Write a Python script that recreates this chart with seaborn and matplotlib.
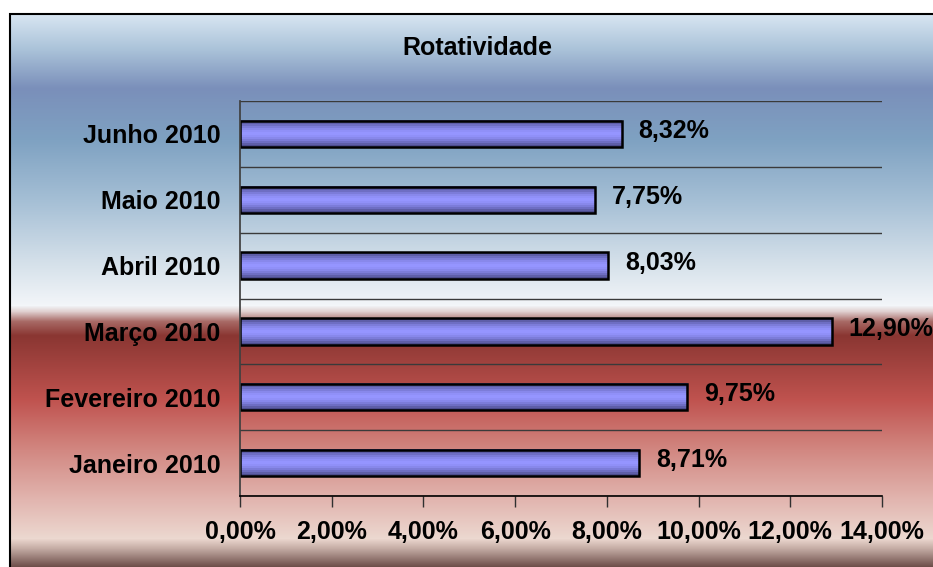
import numpy as np
import pandas as pd
import matplotlib.pyplot as plt
import matplotlib.ticker as mticker
from matplotlib.colors import LinearSegmentedColormap, to_rgb
from matplotlib.patches import Rectangle
import seaborn as sns

# ── Data ────────────────────────────────────────────────
months = ["Junho 2010", "Maio 2010", "Abril 2010",
          "Março 2010", "Fevereiro 2010", "Janeiro 2010"]
rates = [8.32, 7.75, 8.03, 12.90, 9.75, 8.71]
x_ticks = [0, 2, 4, 6, 8, 10, 12, 14]
title = "Rotatividade"

# ── Style ───────────────────────────────────────────────
sns.set_theme(style="white")
plt.rcParams["font.family"] = ["Liberation Sans", "DejaVu Sans"]
plt.rcParams["font.weight"] = "bold"
plt.rcParams["text.color"] = "black"
plt.rcParams["xtick.color"] = "black"
plt.rcParams["ytick.color"] = "black"

W, H = 933, 567
fig = plt.figure(figsize=(W / 100, H / 100), dpi=100)
fig.patch.set_facecolor("white")

# ── Background gradient (blue top, red bottom) ─────────
bg_stops = [(14, "#d8e6f2"), (50, "#a9c1d8"), (88, "#7a8fba"),
            (140, "#7fa2c2"), (200, "#a5bfd5"), (260, "#d3dfe9"),
            (305, "#f3f6f9"), (311, "#e0d0d0"), (321, "#a86a66"),
            (335, "#8a3632"), (400, "#c0534f"), (450, "#d28882"),
            (500, "#e2b6b0"), (538, "#ecd8d0"), (548, "#c4aca4"),
            (567, "#6a4a46")]
ys = np.arange(14, H)
sy = [s[0] for s in bg_stops]
cols = np.array([to_rgb(s[1]) for s in bg_stops])
grad_bg = np.stack([np.interp(ys, sy, cols[:, c]) for c in range(3)], axis=1)

bg = fig.add_axes([10 / W, 0, 1 - 10 / W, (H - 14) / H])
bg.imshow(grad_bg[:, None, :], aspect="auto", extent=[0, 1, 0, 1])
bg.axis("off")

# ── Main chart ──────────────────────────────────────────
ax = fig.add_axes([240 / W, (H - 496) / H, (882 - 240) / W, (496 - 101) / H])
ax.patch.set_alpha(0)

df = pd.DataFrame({"mes": months, "taxa": rates})
sns.barplot(data=df, x="taxa", y="mes", orient="h", width=0.4,
            color="#9090ff", edgecolor="black", linewidth=1.8,
            saturation=1, ax=ax)

# banded shading on each bar
n_band = 13
band = 1 - np.abs(np.linspace(-1, 1, n_band)) ** 1.6
bar_cmap = LinearSegmentedColormap.from_list("bar", ["#4c4c8c", "#9595ff"])
for p in ax.patches:
    x0, y0, w, h = p.get_x(), p.get_y(), p.get_width(), p.get_height()
    ax.imshow(band[:, None], cmap=bar_cmap, aspect="auto",
              extent=[x0, x0 + w, y0 + h, y0], zorder=p.get_zorder() + 0.1,
              interpolation="nearest")
    p.set_facecolor("none")
    p.set_zorder(p.get_zorder() + 0.2)

# value labels
for i, v in enumerate(rates):
    ax.annotate(f"{v:.2f}%".replace(".", ","), xy=(v, i), xytext=(12, 2),
                textcoords="offset points", va="center", ha="left",
                fontsize=18, fontweight="bold", color="black",
                annotation_clip=False)

ax.set_xlim(0, 14)
ax.set_ylim(5.5, -0.5)
ax.set_xticks(x_ticks)
ax.xaxis.set_major_formatter(
    mticker.FuncFormatter(lambda x, _: f"{x:.2f}%".replace(".", ",")))
ax.yaxis.set_minor_locator(mticker.FixedLocator(np.arange(-0.5, 6, 1)))
ax.grid(which="minor", axis="y", color="#3a3a3a", lw=1)
ax.set_axisbelow(True)

ax.tick_params(axis="x", bottom=True, direction="out", length=8, width=1,
               color="#303030", labelcolor="black", pad=9, labelsize=18)
ax.tick_params(axis="y", which="both", length=0, pad=14, labelsize=18,
               labelcolor="black")
for lab in ax.get_xticklabels() + ax.get_yticklabels():
    lab.set_fontweight("bold")

sns.despine(ax=ax, top=True, right=True)
ax.spines["left"].set_color("#404040")
ax.spines["bottom"].set_color("black")
ax.spines["bottom"].set_linewidth(1.2)
ax.set_xlabel("")
ax.set_ylabel("")

fig.text(477 / W, 1 - 48 / H, title, ha="center", va="center",
         fontsize=18, fontweight="bold", color="black")

# outer chart border
fig.add_artist(Rectangle((10 / W, -0.05), 1.0, (H - 14) / H + 0.05,
                         transform=fig.transFigure, fill=False,
                         edgecolor="black", lw=1.5))

fig.savefig("out.png", dpi=100, facecolor="white")
